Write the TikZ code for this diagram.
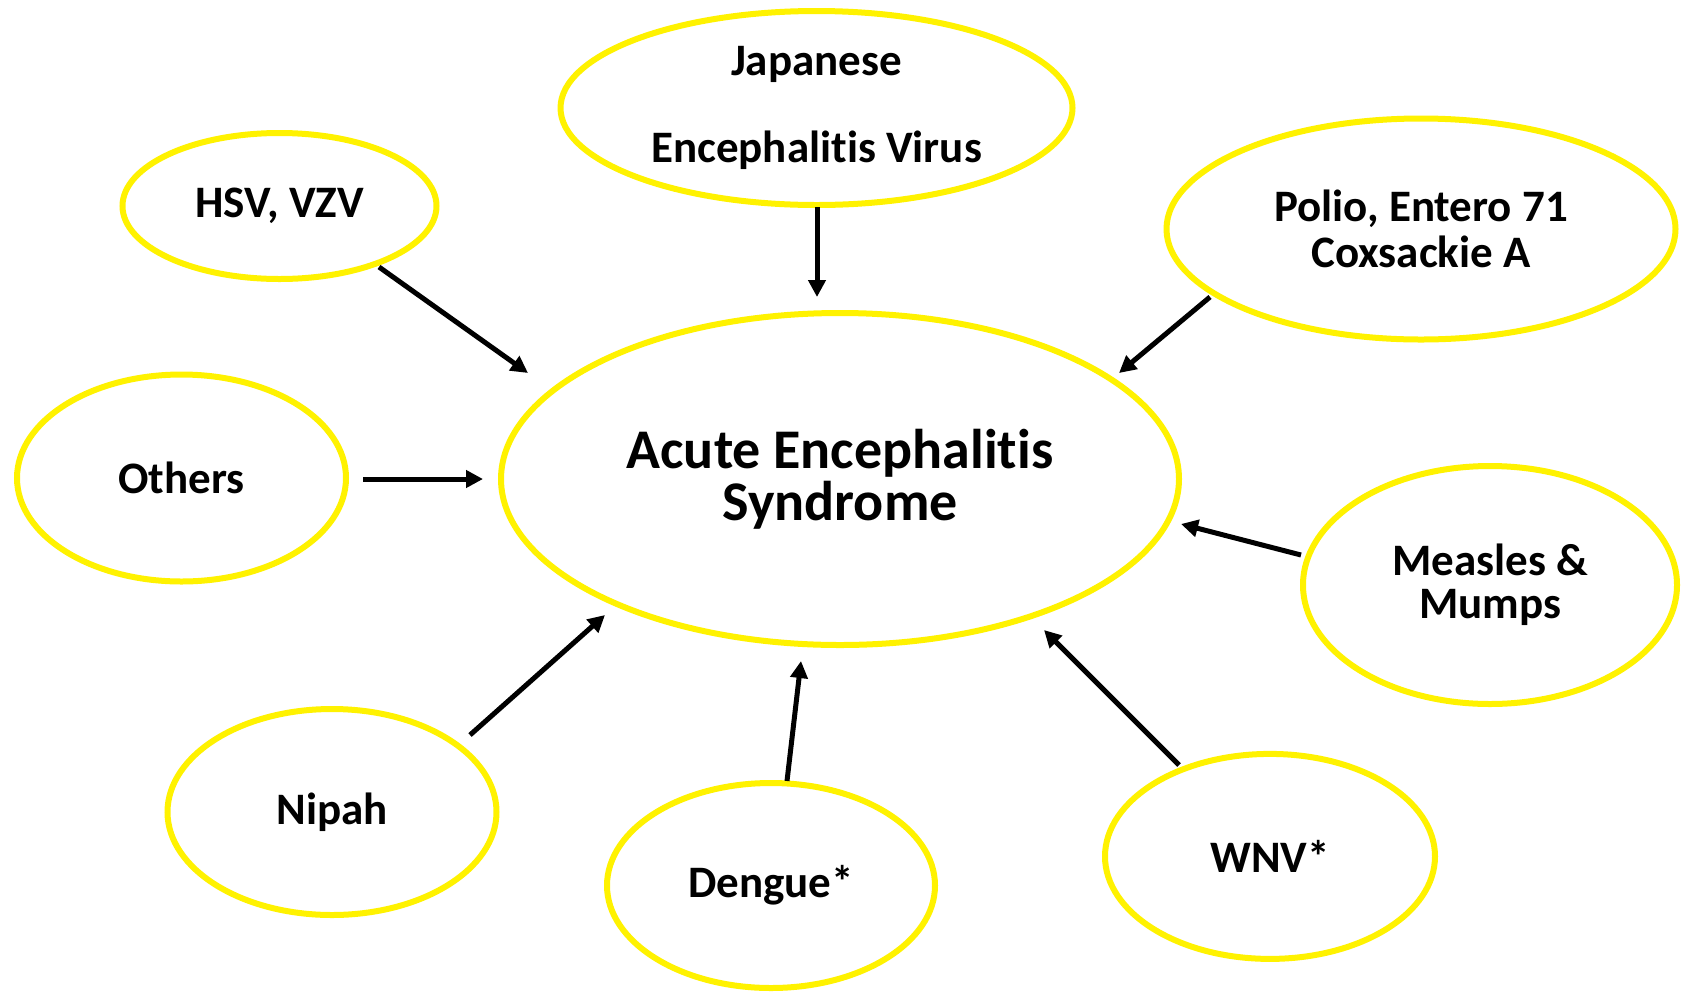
\documentclass[tikz,border=0pt]{standalone}
\usepackage{fontspec}
\setmainfont{Carlito}[Ligatures=CommonOff]
\usetikzlibrary{shapes.geometric,arrows.meta,calc}
\begin{document}
\begin{tikzpicture}[x=1pt,y=-1pt,
  bub/.style={ellipse,draw=yellow,line width=6pt,inner sep=0pt,align=center,
    font=\fontsize{45}{46}\selectfont\bfseries},
  conn/.style={line width=5pt,-{Triangle[length=17pt,width=17pt]}}]
\useasboundingbox[fill=white] (0,0) rectangle (1689,994);
\node[bub,minimum width=678,minimum height=332,font=\fontsize{56}{52}\selectfont\bfseries] (aes) at (840,479) {Acute Encephalitis\\Syndrome};
\node[bub,minimum width=512,minimum height=194,font=\fontsize{45}{87}\selectfont\bfseries] (jev) at (816.5,108) {Japanese\\Encephalitis Virus};
\node[bub,minimum width=314,minimum height=146] (hsv) at (279.5,206) {HSV, VZV};
\node[bub,minimum width=509,minimum height=221] (polio) at (1421,229) {Polio, Entero 71\\Coxsackie A};
\node[bub,minimum width=329,minimum height=207] (others) at (181.5,478) {Others};
\node[bub,minimum width=374,minimum height=238,font=\fontsize{45}{43}\selectfont\bfseries] (measles) at (1490,585) {Measles \&\\Mumps};
\node[bub,minimum width=329,minimum height=206] (nipah) at (332,812) {Nipah};
\node[bub,minimum width=328,minimum height=205] (dengue) at (771,885.5) {Dengue*};
\node[bub,minimum width=330,minimum height=205] (wnv) at (1270,856.4) {WNV*};
\draw[conn] ($(hsv)+(99.5,61)$) -- ($(aes)+(-312,-106)$);
\draw[conn] ($(jev)+(0.5,99)$) -- ($(aes)+(-23,-182)$);
\draw[conn] ($(polio)+(-211,68)$) -- ($(aes)+(279,-106)$);
\draw[conn] ($(others)+(181.5,1)$) -- ($(aes)+(-357,0)$);
\draw[conn] ($(measles)+(-189,-30)$) -- ($(aes)+(341,45)$);
\draw[conn] ($(nipah)+(138,-77)$) -- ($(aes)+(-235,136)$);
\draw[conn] ($(dengue)+(16,-104.5)$) -- ($(aes)+(-39,182)$);
\draw[conn] ($(wnv)+(-91,-91.4)$) -- ($(aes)+(204,151)$);
\end{tikzpicture}
\end{document}
